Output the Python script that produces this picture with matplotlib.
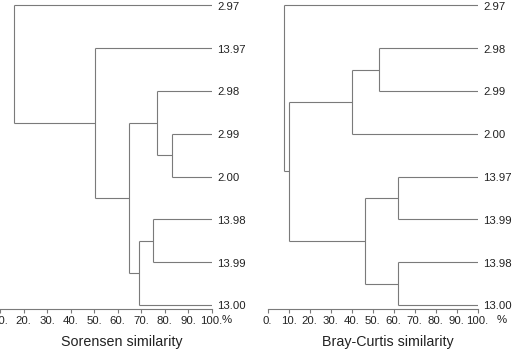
import matplotlib
matplotlib.use("Agg")
import matplotlib.pyplot as plt

plt.rcParams["font.family"] = ["Liberation Sans", "DejaVu Sans"]

# Sorensen similarity dendrogram (leaves listed top to bottom)
sor_leaves = ["2.97", "13.97", "2.98", "2.99", "2.00", "13.98", "13.99", "13.00"]
# merges: (child a, child b, similarity %); leaves are 0..7, new clusters 8, 9, ...
sor_merges = [(3, 4, 83.2), (2, 8, 76.6), (5, 6, 75.0), (10, 7, 69.2),
              (9, 11, 64.9), (1, 12, 50.3), (0, 13, 16.0)]

# Bray-Curtis similarity dendrogram
bc_leaves = ["2.97", "2.98", "2.99", "2.00", "13.97", "13.99", "13.98", "13.00"]
bc_merges = [(1, 2, 53.1), (8, 3, 40.3), (4, 5, 62.2), (6, 7, 62.2),
             (10, 11, 46.5), (9, 12, 10.0), (0, 13, 7.6)]

sor_ticks = [10, 20, 30, 40, 50, 60, 70, 80, 90, 100]   # 0 falls outside the crop
bc_ticks = [0, 10, 20, 30, 40, 50, 60, 70, 80, 90, 100]

LINE = "#7a7a7a"
TEXT = "#222222"


def draw_dendro(ax, leaves, merges, ticks, xlabel, pct_offset):
    n = len(leaves)
    xs = [100.0] * n
    ys = [float(n - 1 - i) for i in range(n)]
    for a, b, s in merges:
        ax.plot([s, s], [ys[a], ys[b]], color=LINE, lw=0.8, solid_capstyle="butt")
        ax.plot([s, xs[a]], [ys[a], ys[a]], color=LINE, lw=0.8, solid_capstyle="butt")
        ax.plot([s, xs[b]], [ys[b], ys[b]], color=LINE, lw=0.8, solid_capstyle="butt")
        xs.append(s)
        ys.append((ys[a] + ys[b]) / 2)
    for i, lab in enumerate(leaves):
        ax.annotate(lab, (100, ys[i]), xytext=(4, -1), textcoords="offset points",
                    ha="left", va="center", fontsize=8.2, color=TEXT,
                    annotation_clip=False)
    ax.set_xlim(0, 100)
    ax.set_ylim(-0.1, n - 1 + 0.124)
    for sp in ["top", "right", "left"]:
        ax.spines[sp].set_visible(False)
    ax.spines["bottom"].set_color(LINE)
    ax.spines["bottom"].set_linewidth(0.8)
    ax.spines["bottom"].set_bounds(0, 100)
    ax.set_yticks([])
    ax.set_xticks(ticks)
    ax.set_xticklabels([f"{t}." for t in ticks])
    ax.tick_params(axis="x", direction="out", length=3, width=0.8, color=LINE,
                   labelsize=8.2, labelcolor=TEXT, pad=1.5)
    ax.annotate("%", (100, -0.1), xytext=(pct_offset, -7.5), textcoords="offset points",
                ha="center", va="center", fontsize=8.2, color=TEXT,
                annotation_clip=False)
    ax.set_xlabel(xlabel, fontsize=10.3, color=TEXT)
    ax.patch.set_alpha(0)


fig = plt.figure(figsize=(5.17, 3.55), dpi=100)
ax1 = fig.add_axes([-23.3 / 517, 1 - 309.3 / 355, 235 / 517, 309.3 / 355])
ax2 = fig.add_axes([267.7 / 517, 1 - 309.3 / 355, 210 / 517, 309.3 / 355])

draw_dendro(ax1, sor_leaves, sor_merges, sor_ticks, "Sorensen similarity", 11)
draw_dendro(ax2, bc_leaves, bc_merges, bc_ticks, "Bray-Curtis similarity", 17)
# place the axis titles where the reference has them
ax1.xaxis.set_label_coords((121.7 + 23.3) / 235, -32.4 / 309.3)
ax2.xaxis.set_label_coords((388.3 - 267.7) / 210, -32.4 / 309.3)
ax1.xaxis.label.set_va("center")
ax2.xaxis.label.set_va("center")

fig.savefig("out.png", dpi=100)
